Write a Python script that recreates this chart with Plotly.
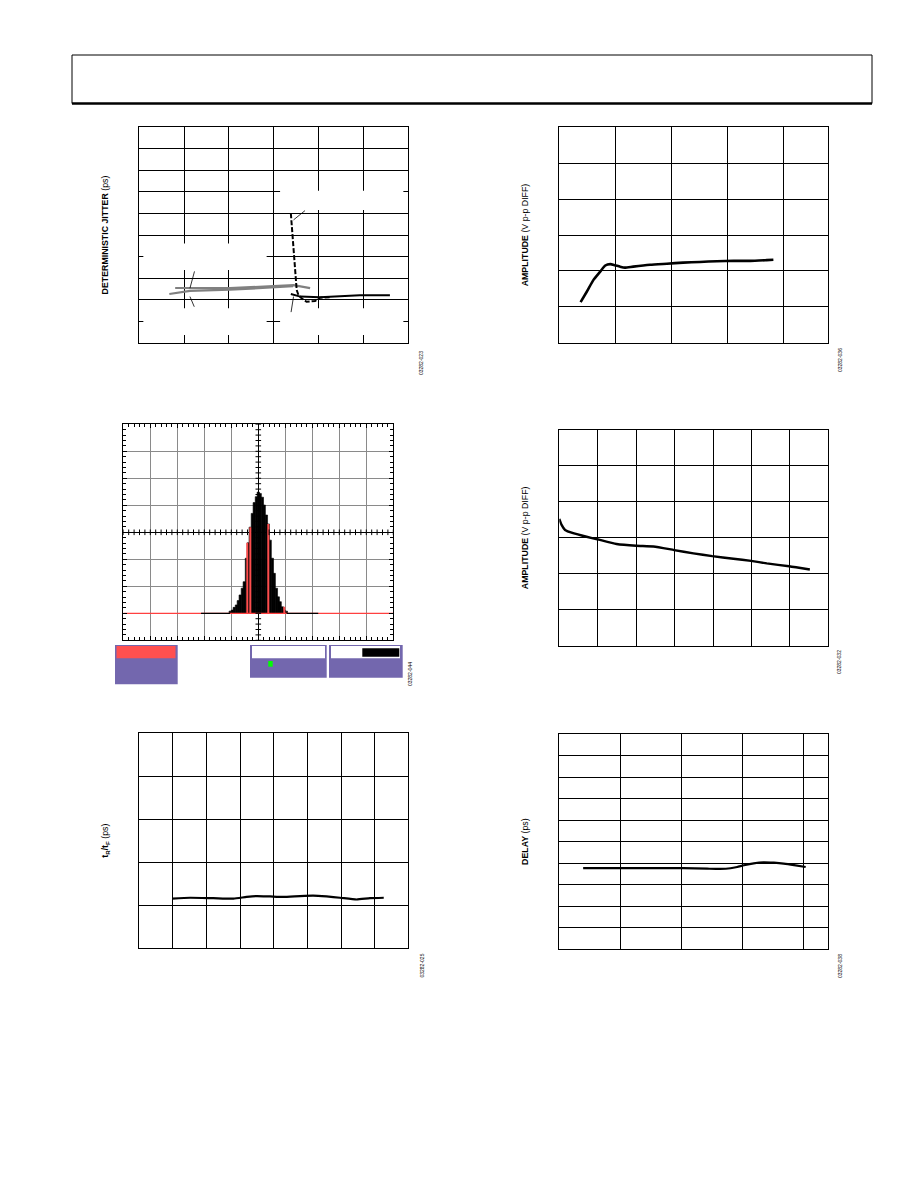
import numpy as np
import plotly.graph_objects as go

W, H = 918, 1188
FONT = "Liberation Sans, Arial, sans-serif"

# ---------------- data ----------------
# Panel 1: deterministic jitter
p1_gray_a_x = [0.80, 2.02, 2.99, 3.44, 3.81]
p1_gray_a_y = [2.54, 2.53, 2.63, 2.67, 2.53]
p1_gray_b_x = [0.67, 1.13, 2.02, 2.98, 3.43]
p1_gray_b_y = [2.26, 2.41, 2.46, 2.57, 2.62]
p1_dash_x = [3.38, 3.42, 3.45, 3.48, 3.51, 3.55, 3.62, 3.73, 3.92, 4.03, 4.25]
p1_dash_y = [6.01, 4.77, 3.84, 3.06, 2.45, 2.21, 2.06, 1.90, 1.94, 2.09, 2.11]
p1_solid_x = [3.38, 3.59, 4.03, 4.40, 4.92, 5.59]
p1_solid_y = [2.26, 2.14, 2.11, 2.14, 2.20, 2.20]

# Panel 2: amplitude (rising then flat)
p2_x = [0.38, 0.49, 0.61, 0.73, 0.82, 0.91, 0.99, 1.08, 1.17, 1.32, 1.62, 1.92,
        2.21, 2.51, 2.81, 3.11, 3.41, 3.70, 3.82]
p2_y = [1.13, 1.42, 1.75, 1.98, 2.15, 2.19, 2.16, 2.12, 2.09, 2.12, 2.17, 2.20,
        2.23, 2.25, 2.27, 2.28, 2.28, 2.30, 2.31]

# Panel 3: histogram
hist_x = [-1.04, -0.96, -0.89, -0.81, -0.74, -0.67, -0.59, -0.52, -0.44, -0.37,
          -0.30, -0.22, -0.15, -0.07, 0.00, 0.07, 0.15, 0.22, 0.30, 0.37,
          0.44, 0.52, 0.59, 0.67, 0.74, 0.81, 0.89, 0.96, 1.04]
hist_top = [-2.92, -2.88, -2.78, -2.69, -2.53, -2.32, -2.07, -1.83, -0.96, -0.39,
            0.19, 0.70, 1.10, 1.32, 1.49, 1.44, 1.30, 1.01, 0.64, 0.31,
            -0.29, -0.96, -1.52, -2.07, -2.39, -2.57, -2.76, -2.88, -2.92]
hist_red_x = [-0.41, -0.29, 0.36, 0.95]
hist_red_top = [-0.39, 0.19, 0.31, -2.76]
hist_baseline = -3.0
hist_tail_left = [-2.12, -1.05]
hist_tail_right = [1.05, 2.22]

# Panel 4: amplitude (falling)
p4_x = [0.00, 0.06, 0.15, 0.36, 0.71, 0.99, 1.49, 2.00, 2.45, 2.99, 3.49, 3.98,
        4.53, 4.99, 5.40, 5.98, 6.52]
p4_y = [3.53, 3.36, 3.22, 3.13, 3.03, 2.96, 2.83, 2.78, 2.76, 2.66, 2.57, 2.49,
        2.42, 2.36, 2.29, 2.21, 2.12]

# Panel 5: tR/tF
p5_x = [0.98, 1.51, 2.20, 2.80, 3.19, 3.49, 3.89, 4.28, 4.78, 5.17, 5.57, 5.97,
        6.46, 6.86, 7.27]
p5_y = [1.15, 1.17, 1.16, 1.15, 1.19, 1.21, 1.20, 1.19, 1.21, 1.22, 1.20, 1.17,
        1.13, 1.16, 1.17]

# Panel 6: delay
p6_x = [0.39, 1.21, 2.03, 2.42, 2.63, 2.80, 2.91, 3.02, 3.18, 3.34, 3.51, 3.67,
        3.84, 4.03]
p6_y = [3.77, 3.77, 3.77, 3.74, 3.73, 3.76, 3.82, 3.90, 3.99, 4.04, 4.02, 3.98,
        3.91, 3.82]

# ---------------- layout helpers ----------------
def fx(x):
    return x / W


def fy(y):
    return 1 - y / H


# pixel frames (left, right, top, bottom)
frames = {
    1: (139.3, 408.3, 127.3, 342.7),
    2: (559.3, 828.3, 127.3, 342.7),
    3: (123.3, 393.3, 424.3, 640.3),
    4: (559.3, 828.3, 430.0, 645.7),
    5: (139.3, 408.3, 733.3, 948.0),
    6: (559.3, 828.3, 734.3, 949.0),
}
ranges = {
    1: ([0, 6], [0, 10]),
    2: ([0, 4.8], [0, 6]),
    3: ([-5, 5], [-4, 4]),
    4: ([0, 7], [0, 6]),
    5: ([0, 8], [0, 5]),
    6: ([0, 4.4], [0, 10]),
}
ytitles = {
    1: "<b>DETERMINISTIC JITTER</b> (ps)",
    2: "<b>AMPLITUDE</b> (V p-p DIFF)",
    3: None,
    4: "<b>AMPLITUDE</b> (V p-p DIFF)",
    5: "<b>t<sub>R</sub>/t<sub>F</sub></b> (ps)",
    6: "<b>DELAY</b> (ps)",
}

fig = go.Figure()
layout = dict(
    width=W, height=H, autosize=False,
    margin=dict(l=0, r=0, t=0, b=0),
    paper_bgcolor="white", plot_bgcolor="white",
    showlegend=False, barmode="overlay",
    font=dict(family=FONT, color="black", size=8),
)

for i, (l, r, t, b) in frames.items():
    xr, yr = ranges[i]
    grid = "#8a8a8a" if i == 3 else "black"
    xa = dict(domain=[fx(l), fx(r)], range=xr, anchor=f"y{i}", dtick=1, tick0=0,
              showgrid=True, gridcolor=grid, gridwidth=1,
              showline=True, linecolor="black", linewidth=1, mirror=True,
              showticklabels=False, ticks="", zeroline=False, fixedrange=True)
    ya = dict(domain=[fy(b), fy(t)], range=yr, anchor=f"x{i}", dtick=1, tick0=0,
              showgrid=True, gridcolor=grid, gridwidth=1,
              showline=True, linecolor="black", linewidth=1, mirror=True,
              showticklabels=False, ticks="", zeroline=False, fixedrange=True)
    if i == 3:
        for a in (xa, ya):
            a.update(zeroline=True, zerolinecolor="black", zerolinewidth=1,
                     ticks="inside", ticklen=4, tickcolor="black", mirror="allticks",
                     minor=dict(ticks="inside", dtick=0.2, ticklen=3,
                                tickcolor="black", showgrid=False))
    if ytitles[i]:
        ya["title"] = dict(text=ytitles[i], standoff=28,
                           font=dict(family=FONT, size=8.8, color="black"))
    layout[f"xaxis{i}"] = xa
    layout[f"yaxis{i}"] = ya

fig.update_layout(**layout)

# ---------------- traces ----------------
# panel 1
fig.add_trace(go.Scatter(x=p1_gray_b_x, y=p1_gray_b_y, mode="lines", xaxis="x1", yaxis="y1",
                         line=dict(color="#808080", width=2.2)))
fig.add_trace(go.Scatter(x=p1_gray_a_x, y=p1_gray_a_y, mode="lines", xaxis="x1", yaxis="y1",
                         line=dict(color="#808080", width=2.2)))
fig.add_trace(go.Scatter(x=p1_dash_x, y=p1_dash_y, mode="lines", xaxis="x1", yaxis="y1",
                         line=dict(color="black", width=2, dash="5px,2px")))
fig.add_trace(go.Scatter(x=p1_solid_x, y=p1_solid_y, mode="lines", xaxis="x1", yaxis="y1",
                         line=dict(color="black", width=2)))

# panel 2
fig.add_trace(go.Scatter(x=p2_x, y=p2_y, mode="lines", xaxis="x2", yaxis="y2",
                         line=dict(color="black", width=2.6, shape="spline", smoothing=0.5)))

# panel 3 histogram
fig.add_trace(go.Scatter(x=ranges[3][0], y=[hist_baseline, hist_baseline], mode="lines",
                         xaxis="x3", yaxis="y3", line=dict(color="#FF4040", width=1.2)))
fig.add_trace(go.Scatter(x=hist_tail_left, y=[hist_baseline] * 2, mode="lines",
                         xaxis="x3", yaxis="y3", line=dict(color="black", width=1.2)))
fig.add_trace(go.Scatter(x=hist_tail_right, y=[hist_baseline] * 2, mode="lines",
                         xaxis="x3", yaxis="y3", line=dict(color="black", width=1.2)))
fig.add_trace(go.Bar(x=hist_x, y=[v - hist_baseline for v in hist_top], base=hist_baseline,
                     width=0.085, xaxis="x3", yaxis="y3",
                     marker=dict(color="black", line=dict(width=0.6, color="black"))))
fig.add_trace(go.Bar(x=hist_red_x, y=[v - hist_baseline for v in hist_red_top], base=hist_baseline,
                     width=0.03, xaxis="x3", yaxis="y3",
                     marker=dict(color="#FF4D4D", line=dict(width=0))))
# centre-line cross ticks
cx = np.arange(-5, 5.001, 0.2)
cy = np.arange(-4, 4.001, 0.2)
fig.add_trace(go.Scatter(x=cx, y=np.zeros_like(cx), mode="markers", xaxis="x3", yaxis="y3",
                         marker=dict(symbol="line-ns", size=4, line=dict(color="black", width=1))))
fig.add_trace(go.Scatter(x=np.zeros_like(cy), y=cy, mode="markers", xaxis="x3", yaxis="y3",
                         marker=dict(symbol="line-ew", size=4, line=dict(color="black", width=1))))

# panel 4
fig.add_trace(go.Scatter(x=p4_x, y=p4_y, mode="lines", xaxis="x4", yaxis="y4",
                         line=dict(color="black", width=2.4, shape="spline", smoothing=0.5)))
# panel 5
fig.add_trace(go.Scatter(x=p5_x, y=p5_y, mode="lines", xaxis="x5", yaxis="y5",
                         line=dict(color="black", width=2.2, shape="spline", smoothing=0.5)))
# panel 6
fig.add_trace(go.Scatter(x=p6_x, y=p6_y, mode="lines", xaxis="x6", yaxis="y6",
                         line=dict(color="black", width=2.2, shape="spline", smoothing=0.5)))

# ---------------- shapes ----------------
shapes = []
# white label areas that interrupt the grid in panel 1
for x0, x1, y0, y1 in [(3.14, 5.89, 6.16, 7.05), (0.09, 2.84, 3.37, 4.61),
                       (0.09, 2.84, 0.36, 1.60), (3.14, 5.89, 0.36, 1.60)]:
    shapes.append(dict(type="rect", xref="x1", yref="y1", x0=x0, x1=x1, y0=y0, y1=y1,
                       fillcolor="white", line=dict(width=0), layer="between"))

# header box
shapes.append(dict(type="rect", xref="paper", yref="paper", x0=fx(72), x1=fx(872),
                   y0=fy(103.5), y1=fy(55), line=dict(color="black", width=1)))
shapes.append(dict(type="line", xref="paper", yref="paper", x0=fx(72), x1=fx(872),
                   y0=fy(103.5), y1=fy(103.5), line=dict(color="black", width=2.5)))

# scope readout boxes under the histogram
PURPLE = "#7367AE"
def prect(x0, x1, y0, y1, fill):
    return dict(type="rect", xref="paper", yref="paper", x0=fx(x0), x1=fx(x1),
                y0=fy(y1), y1=fy(y0), fillcolor=fill, line=dict(width=0))

shapes += [
    prect(115, 177.7, 645, 684.3, PURPLE),
    prect(116.5, 175.5, 646, 658.3, "#FF5050"),
    prect(250, 326.7, 645, 677.7, PURPLE),
    prect(252, 325, 646, 658.3, "white"),
    prect(268.3, 272.7, 661, 666.7, "#00FF00"),
    prect(329, 402.7, 645, 677.7, PURPLE),
    prect(331, 400, 646, 658.3, "white"),
    prect(362.3, 399.3, 648.3, 656.7, "black"),
]
fig.update_layout(shapes=shapes)

# ---------------- annotations ----------------
ann = []
# leader lines in panel 1
for (x, y, ax, ay) in [(1.13, 2.53, 1.24, 3.38), (1.13, 2.14, 1.24, 1.60),
                       (3.44, 5.70, 3.73, 6.19), (3.44, 2.14, 3.38, 1.35)]:
    ann.append(dict(x=x, y=y, ax=ax, ay=ay, xref="x1", yref="y1", axref="x1", ayref="y1",
                    text="", showarrow=True, arrowhead=0, arrowwidth=0.8, arrowcolor="black",
                    standoff=0, startstandoff=0))
# figure ids
for txt, xp, yp in [("03282-023", 421, 363), ("03282-036", 840, 360), ("03282-044", 410, 674),
                    ("03282-032", 839, 662), ("03282-025", 421.5, 966), ("03282-038", 840, 966)]:
    ann.append(dict(text=txt, x=fx(xp), y=fy(yp), xref="paper", yref="paper", showarrow=False,
                    textangle=-90, font=dict(family=FONT, size=5, color="black"),
                    xanchor="center", yanchor="middle"))
fig.update_layout(annotations=ann)

fig.write_html("out.html", config={"displayModeBar": False},
               post_script="document.body.style.margin='0';")
